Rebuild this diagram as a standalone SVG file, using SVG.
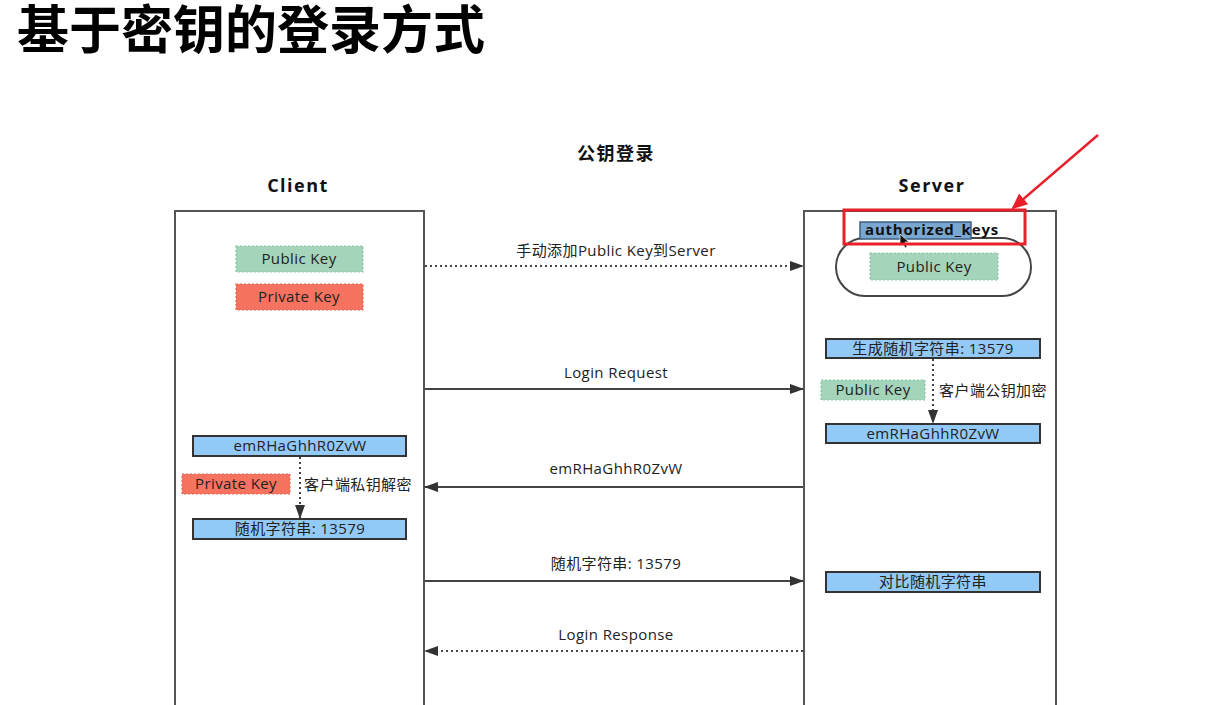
<svg xmlns="http://www.w3.org/2000/svg" width="1207" height="705" viewBox="0 0 1207 705">
<style>
.t{font-family:"Open Sans","Noto Sans CJK SC",sans-serif;font-size:15px;letter-spacing:0.4px;fill:#222;text-anchor:middle}
.h{font-family:"Open Sans","Noto Sans CJK SC",sans-serif;font-size:18px;font-weight:bold;fill:#111;text-anchor:middle;letter-spacing:1.5px}
.lane{fill:#fff;stroke:#555;stroke-width:2}
.blue{fill:#92c9f7;stroke:#333;stroke-width:2}
.green{fill:#a4d4b9;stroke:#8fc4a6;stroke-width:1.2;stroke-dasharray:2 2}
.red{fill:#f8735f;stroke:#e86a58;stroke-width:1.2;stroke-dasharray:2 2}
.solid{stroke:#444;stroke-width:2;fill:none}
.dot{stroke:#444;stroke-width:2;fill:none;stroke-dasharray:2 3}
</style>
<defs>
<marker id="ah" markerWidth="14" markerHeight="10" refX="13" refY="5" orient="auto" markerUnits="userSpaceOnUse" viewBox="0 0 14 10">
<path d="M0,0 L14,5 L0,10 z" fill="#333"/>
</marker>
<marker id="ra" markerWidth="16" markerHeight="14" refX="14" refY="7" orient="auto" markerUnits="userSpaceOnUse" viewBox="0 0 16 14">
<path d="M0,0 L16,7 L0,14 z" fill="#e8202a"/>
</marker>
</defs>
<rect width="1207" height="705" fill="#fff"/>
<text x="17" y="49" font-family="Noto Sans CJK SC,sans-serif" font-size="52" font-weight="bold" fill="#000">基于密钥的登录方式</text>
<text class="h" x="616" y="160" font-size="16" letter-spacing="6">公钥登录</text>
<text class="h" x="298" y="192">Client</text>
<text class="h" x="932" y="192">Server</text>

<g id="client">
<rect class="lane" x="175" y="211" width="249" height="500"/>
</g>
<g id="server">
<rect class="lane" x="804" y="211" width="252" height="500"/>
</g>

<g id="client-public-key"><rect class="green" x="236" y="246" width="127" height="26"/><text class="t" x="299" y="264">Public Key</text></g>
<g id="client-private-key"><rect class="red" x="236" y="284" width="127" height="26"/><text class="t" x="299" y="302">Private Key</text></g>

<g id="authorized-keys">
<rect x="836" y="238" width="195" height="58" rx="29" fill="#fff" stroke="#444" stroke-width="2"/>
<rect x="860" y="222" width="111" height="17" fill="#7aa7cf" stroke="#3e5f80" stroke-width="1.5"/>
<text x="932" y="235" font-family="Open Sans,sans-serif" font-size="15" letter-spacing="0.8" font-weight="bold" fill="#111" text-anchor="middle">authorized_keys</text>
<rect class="green" x="870" y="253" width="128" height="27"/><text class="t" x="934" y="272">Public Key</text>
<path d="M900,234 L900,246 L903,243 L905,248 L907,247 L905,242 L909,242 Z" fill="#111" stroke="#fff" stroke-width="0.7"/>
</g>
<g id="highlight">
<rect x="844" y="210" width="181" height="34" fill="none" stroke="#e8202a" stroke-width="3"/>
<line x1="1098" y1="135" x2="1013" y2="208" stroke="#e8202a" stroke-width="2.5" marker-end="url(#ra)"/>
</g>

<g id="gen-random"><rect class="blue" x="826" y="339" width="214" height="19"/><text class="t" x="933" y="354">生成随机字符串: 13579</text></g>
<g id="server-public-key"><rect class="green" x="821" y="380" width="104" height="20"/><text class="t" x="873" y="395">Public Key</text></g>
<g id="server-cipher"><rect class="blue" x="826" y="424" width="214" height="19"/><text class="t" x="933" y="439">emRHaGhhR0ZvW</text></g>
<g id="compare"><rect class="blue" x="826" y="572" width="214" height="20"/><text class="t" x="933" y="587">对比随机字符串</text></g>

<g id="client-cipher"><rect class="blue" x="193" y="436" width="213" height="20"/><text class="t" x="300" y="451">emRHaGhhR0ZvW</text></g>
<g id="client-private-key-2"><rect class="red" x="182" y="474" width="108" height="20"/><text class="t" x="236" y="489">Private Key</text></g>
<g id="client-random"><rect class="blue" x="193" y="519" width="213" height="20"/><text class="t" x="300" y="534">随机字符串: 13579</text></g>

<g id="connectors">
<line class="dot" x1="425" y1="266" x2="803" y2="266" marker-end="url(#ah)"/>
<text class="t" x="616" y="256">手动添加Public Key到Server</text>
<line class="solid" x1="425" y1="389" x2="803" y2="389" marker-end="url(#ah)"/>
<text class="t" x="616" y="378">Login Request</text>
<line class="dot" x1="933" y1="359" x2="933" y2="423" marker-end="url(#ah)"/>
<text class="t" x="993" y="396">客户端公钥加密</text>
<line class="solid" x1="803" y1="487" x2="425" y2="487" marker-end="url(#ah)"/>
<text class="t" x="616" y="474">emRHaGhhR0ZvW</text>
<line class="dot" x1="300" y1="457" x2="300" y2="518" marker-end="url(#ah)"/>
<text class="t" x="358" y="490">客户端私钥解密</text>
<line class="solid" x1="425" y1="581" x2="803" y2="581" marker-end="url(#ah)"/>
<text class="t" x="616" y="569">随机字符串: 13579</text>
<line class="dot" x1="803" y1="651" x2="425" y2="651" marker-end="url(#ah)"/>
<text class="t" x="616" y="640">Login Response</text>
</g>
</svg>
